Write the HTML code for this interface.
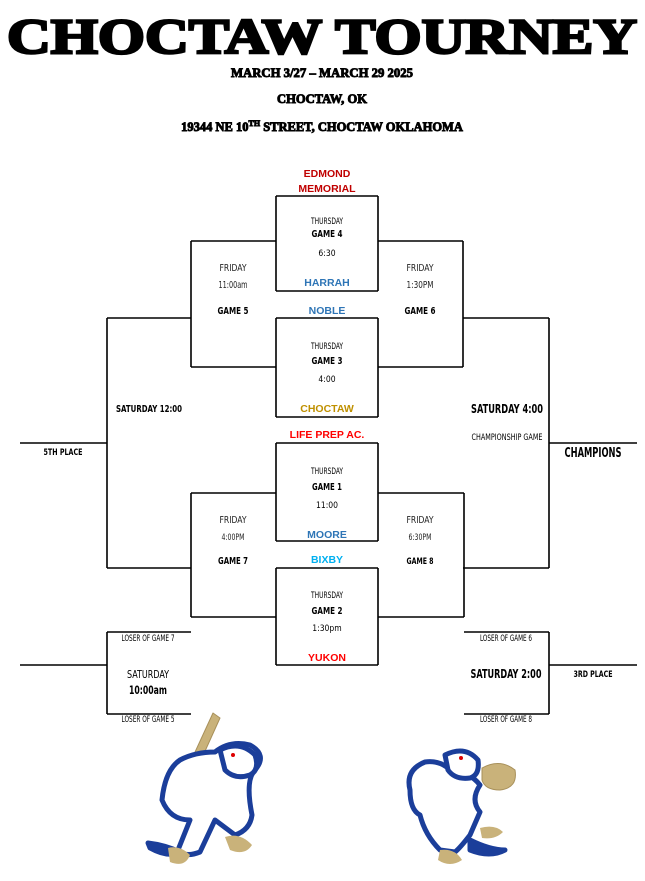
<!DOCTYPE html>
<html><head><meta charset="utf-8"><style>
html,body{margin:0;padding:0;background:#fff;width:645px;height:881px;overflow:hidden}
svg{display:block}
.t{font-family:"Liberation Serif",serif;font-weight:bold}
.c{font-family:"DejaVu Sans Condensed","DejaVu Sans",sans-serif;font-stretch:condensed}
.b{font-family:"Liberation Sans",sans-serif;font-weight:bold}
</style></head><body>
<svg width="645" height="881" viewBox="0 0 645 881" xmlns="http://www.w3.org/2000/svg">
<g text-anchor="middle">
<text class="t" x="322" y="53" font-size="50" textLength="630" lengthAdjust="spacingAndGlyphs" stroke="#000" stroke-width="2.5">CHOCTAW TOURNEY</text>
<text class="t" x="322" y="77" font-size="12.5" textLength="182" lengthAdjust="spacingAndGlyphs" stroke="#000" stroke-width="0.9">MARCH 3/27 – MARCH 29 2025</text>
<text class="t" x="322" y="103" font-size="12.5" textLength="90" lengthAdjust="spacingAndGlyphs" stroke="#000" stroke-width="0.9">CHOCTAW, OK</text>
<text class="t" x="322" y="131" font-size="12.5" stroke="#000" stroke-width="0.9"><tspan>19344 NE 10</tspan><tspan font-size="8" dy="-5">TH</tspan><tspan dy="5"> STREET, CHOCTAW OKLAHOMA</tspan></text>
</g>
<g stroke="#000" stroke-width="1.6" fill="none">
<path d="M276 196H378M276 196V291M378 196V291M276 291H378"/>
<path d="M276 318H378M276 318V417M378 318V417M276 417H378"/>
<path d="M191 241H276M191 241V367M191 367H276"/>
<path d="M463 241H378M463 241V367M463 367H378"/>
<path d="M107 318H191M107 318V568M107 568H191"/>
<path d="M463 318H549M549 318V568M463 568H549"/>
<path d="M20 443H107M549 443H637"/>
<path d="M276 443H378M276 443V541M378 443V541M276 541H378"/>
<path d="M276 568H378M276 568V665M378 568V665M276 665H378"/>
<path d="M191 493H276M191 493V617M191 617H276"/>
<path d="M464 493H378M464 493V617M464 617H378"/>
<path d="M107 632H191M107 632V714M107 714H191M20 665H107"/>
<path d="M464 632H549M549 632V714M464 714H549M549 665H637"/>
</g>
<g text-anchor="middle" class="c" lengthAdjust="spacingAndGlyphs">
<text class="b" x="327" y="177" font-size="10.5" fill="#c00000">EDMOND</text>
<text class="b" x="327" y="192" font-size="10.5" fill="#c00000">MEMORIAL</text>
<text x="327" y="224" font-size="8.5" textLength="32" lengthAdjust="spacingAndGlyphs">THURSDAY</text>
<text x="327" y="237" font-size="10" font-weight="bold" textLength="31" lengthAdjust="spacingAndGlyphs">GAME 4</text>
<text x="327" y="256" font-size="8.5">6:30</text>
<text class="b" x="327" y="286" font-size="10.5" fill="#2e75b6">HARRAH</text>
<text class="b" x="327" y="314" font-size="10.5" fill="#2e75b6">NOBLE</text>
<text x="327" y="349" font-size="8.5" textLength="32" lengthAdjust="spacingAndGlyphs">THURSDAY</text>
<text x="327" y="364" font-size="10" font-weight="bold" textLength="31" lengthAdjust="spacingAndGlyphs">GAME 3</text>
<text x="327" y="382" font-size="8.5">4:00</text>
<text class="b" x="327" y="412" font-size="10.5" fill="#bf9000">CHOCTAW</text>

<text x="233" y="271" font-size="9.5" fill="#222" textLength="27" lengthAdjust="spacingAndGlyphs">FRIDAY</text>
<text x="233" y="288" font-size="9.5" fill="#222" textLength="29" lengthAdjust="spacingAndGlyphs">11:00am</text>
<text x="233" y="314" font-size="10" font-weight="bold" textLength="31" lengthAdjust="spacingAndGlyphs">GAME 5</text>
<text x="420" y="271" font-size="9.5" fill="#222" textLength="27" lengthAdjust="spacingAndGlyphs">FRIDAY</text>
<text x="420" y="288" font-size="9.5" fill="#222" textLength="27" lengthAdjust="spacingAndGlyphs">1:30PM</text>
<text x="420" y="314" font-size="10" font-weight="bold" textLength="31" lengthAdjust="spacingAndGlyphs">GAME 6</text>

<text x="149" y="412" font-size="10" font-weight="bold" textLength="66" lengthAdjust="spacingAndGlyphs">SATURDAY 12:00</text>
<text x="507" y="413" font-size="12" font-weight="bold" textLength="72" lengthAdjust="spacingAndGlyphs">SATURDAY 4:00</text>
<text x="507" y="440" font-size="8.5" textLength="71" lengthAdjust="spacingAndGlyphs">CHAMPIONSHIP GAME</text>
<text x="63" y="455" font-size="8.5" font-weight="bold" textLength="39" lengthAdjust="spacingAndGlyphs">5TH PLACE</text>
<text x="593" y="457" font-size="13" font-weight="bold" textLength="57" lengthAdjust="spacingAndGlyphs">CHAMPIONS</text>

<text class="b" x="327" y="438" font-size="10.5" fill="#ff0000">LIFE PREP AC.</text>
<text x="327" y="474" font-size="8.5" textLength="32" lengthAdjust="spacingAndGlyphs">THURSDAY</text>
<text x="327" y="490" font-size="10" font-weight="bold" textLength="30" lengthAdjust="spacingAndGlyphs">GAME 1</text>
<text x="327" y="508" font-size="8.5">11:00</text>
<text class="b" x="327" y="538" font-size="10.5" fill="#2e75b6">MOORE</text>
<text class="b" x="327" y="563" font-size="10.5" fill="#00b0f0">BIXBY</text>
<text x="327" y="598" font-size="8.5" textLength="32" lengthAdjust="spacingAndGlyphs">THURSDAY</text>
<text x="327" y="614" font-size="10" font-weight="bold" textLength="31" lengthAdjust="spacingAndGlyphs">GAME 2</text>
<text x="327" y="631" font-size="8.5">1:30pm</text>
<text class="b" x="327" y="661" font-size="10.5" fill="#ff0000">YUKON</text>

<text x="233" y="523" font-size="9.5" fill="#222" textLength="27" lengthAdjust="spacingAndGlyphs">FRIDAY</text>
<text x="233" y="540" font-size="8.5" fill="#222" textLength="23" lengthAdjust="spacingAndGlyphs">4:00PM</text>
<text x="233" y="564" font-size="10" font-weight="bold" textLength="30" lengthAdjust="spacingAndGlyphs">GAME 7</text>
<text x="420" y="523" font-size="9.5" fill="#222" textLength="27" lengthAdjust="spacingAndGlyphs">FRIDAY</text>
<text x="420" y="540" font-size="8.5" fill="#222" textLength="23" lengthAdjust="spacingAndGlyphs">6:30PM</text>
<text x="420" y="564" font-size="9" font-weight="bold" textLength="27" lengthAdjust="spacingAndGlyphs">GAME 8</text>

<text x="148" y="641" font-size="8.5" textLength="53" lengthAdjust="spacingAndGlyphs">LOSER OF GAME 7</text>
<text x="148" y="678" font-size="11" textLength="42" lengthAdjust="spacingAndGlyphs">SATURDAY</text>
<text x="148" y="694" font-size="11.5" font-weight="bold" textLength="38" lengthAdjust="spacingAndGlyphs">10:00am</text>
<text x="148" y="722" font-size="8.5" textLength="53" lengthAdjust="spacingAndGlyphs">LOSER OF GAME 5</text>
<text x="506" y="641" font-size="8.5" textLength="52" lengthAdjust="spacingAndGlyphs">LOSER OF GAME 6</text>
<text x="506" y="678" font-size="12" font-weight="bold" textLength="71" lengthAdjust="spacingAndGlyphs">SATURDAY 2:00</text>
<text x="506" y="722" font-size="8.5" textLength="52" lengthAdjust="spacingAndGlyphs">LOSER OF GAME 8</text>
<text x="593" y="677" font-size="8.5" font-weight="bold" textLength="39" lengthAdjust="spacingAndGlyphs">3RD PLACE</text>
</g>
<!-- left mascot -->
<g stroke="#1b3e9a" stroke-width="5" stroke-linejoin="round">
<path d="M213 713 L220 718 L192 780 L184 776Z" fill="#c9b27a" stroke="#a8905a" stroke-width="1"/>
<path d="M180 760 Q165 770 162 800 Q170 820 190 820 L178 850 Q185 858 200 852 L215 820 L235 835 Q250 830 252 815 Q245 780 255 770 Q268 755 250 745 Q230 740 215 752 Q195 752 180 760Z" fill="#fff"/>
<path d="M220 750 Q240 740 255 755 Q260 770 250 775 Q235 780 225 770Z" fill="#fff"/>
<path d="M148 843 Q165 845 180 852 Q168 858 150 848Z" fill="#1b3e9a"/>
</g>
<circle cx="233" cy="755" r="2" fill="#d00"/>
<path d="M168 848 Q180 845 190 855 Q185 868 170 862Z M225 837 Q240 832 252 845 Q245 856 230 850Z" fill="#c9b27a"/>
<!-- right mascot -->
<g stroke="#1b3e9a" stroke-width="5" stroke-linejoin="round">
<path d="M410 790 Q405 770 425 762 Q440 760 450 770 Q470 772 480 785 Q470 800 480 812 L470 835 Q460 848 455 852 L440 850 Q425 835 420 815 Q410 810 410 790Z" fill="#fff"/>
<path d="M445 755 Q465 745 478 760 Q480 775 470 778 Q455 780 448 770Z" fill="#fff"/>
<path d="M470 840 Q490 850 505 850 Q490 858 470 850Z" fill="#1b3e9a"/>
</g>
<circle cx="461" cy="758" r="2" fill="#d00"/>
<path d="M482 768 Q500 758 515 770 Q518 788 500 790 Q485 790 482 780Z" fill="#c9b27a" stroke="#a8905a"/>
<path d="M480 828 Q495 824 503 832 Q495 840 482 838Z M440 850 Q455 848 462 860 Q450 868 438 860Z" fill="#c9b27a"/>
</svg>
</body></html>
